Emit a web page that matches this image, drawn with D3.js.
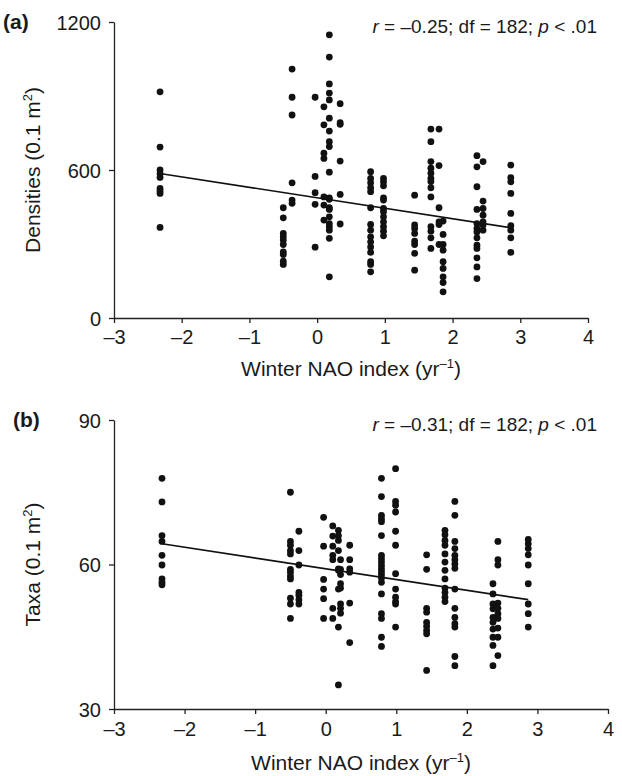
<!DOCTYPE html>
<html>
<head>
<meta charset="utf-8">
<script src="https://cdn.jsdelivr.net/npm/d3@7"></script>
<style>
  html, body { margin: 0; padding: 0; background: #fff; }
  svg { display: block; font-family: "Liberation Sans", Arial, Helvetica, sans-serif; }
</style>
</head>
<body>
<svg id="chart" width="622" height="776"></svg>
<script>
// ---------- data ----------
const xTicks = [-3, -2, -1, 0, 1, 2, 3, 4];
const densityTicks = [0, 600, 1200];
const taxaTicks = [30, 60, 90];

// Panel (a): winter NAO index values (columns) and densities in each column
const naoA = [-2.32, -0.50, -0.37, -0.03, 0.10, 0.18, 0.34, 0.79, 0.98, 1.44, 1.68, 1.80, 1.86, 2.36, 2.45, 2.86];
const densities = [
  [917, 693, 600, 585, 570, 525, 515, 505, 367],
  [447, 406, 343, 329, 316, 298, 268, 257, 230, 217],
  [1009, 895, 823, 548, 478, 465],
  [895, 574, 508, 461, 287],
  [856, 783, 668, 647, 491, 458, 397],
  [1148, 1058, 949, 912, 884, 810, 758, 715, 695, 591, 487, 481, 447, 440, 410, 383, 370, 356, 323, 167],
  [869, 792, 785, 636, 501, 381],
  [593, 566, 548, 528, 512, 447, 379, 356, 329, 309, 288, 266, 228, 217, 187],
  [566, 552, 536, 487, 478, 444, 431, 410, 390, 370, 352, 333],
  [498, 377, 363, 343, 312, 298, 262, 194],
  [766, 715, 634, 607, 587, 566, 553, 528, 491, 370, 352, 325, 282],
  [766, 618, 447, 390, 379, 298],
  [393, 339, 298, 275, 228, 201, 167, 144, 106],
  [658, 613, 532, 440, 383, 363, 349, 325, 295, 282, 244, 207, 160],
  [634, 474, 444, 417, 390, 377, 356],
  [620, 569, 552, 505, 424, 374, 356, 325, 266]
];
const fitA = [[-2.30, 585], [2.86, 366]];

// Panel (b): winter NAO index values (columns) and taxa in each column
const naoB = [-2.32, -0.50, -0.38, -0.03, 0.10, 0.18, 0.21, 0.34, 0.79, 0.99, 1.43, 1.69, 1.83, 2.37, 2.44, 2.87];
const taxa = [
  [77.9, 73.0, 66.0, 64.8, 61.9, 59.9, 57.0, 56.3, 55.8],
  [75.0, 64.8, 64.0, 62.9, 62.2, 59.0, 58.4, 57.6, 57.0, 53.0, 51.8, 48.8],
  [66.9, 62.9, 59.9, 54.2, 53.6, 52.7, 51.8],
  [69.8, 63.8, 56.9, 54.9, 52.9, 48.8],
  [68.0, 65.9, 63.8, 61.9, 61.0, 50.9, 48.8],
  [67.1, 66.0, 65.0, 62.9, 59.1, 58.8, 54.9, 47.0, 35.0],
  [61.0, 59.0, 57.9, 56.0, 55.1, 51.8, 50.9, 49.9],
  [64.0, 61.0, 59.1, 58.4, 52.0, 43.8],
  [77.9, 74.1, 70.2, 69.5, 68.9, 66.0, 61.9, 61.2, 60.5, 59.8, 59.1, 58.5, 57.9, 57.2, 56.3, 53.9, 49.8, 48.8, 44.9, 43.0],
  [79.9, 73.1, 72.3, 70.9, 66.9, 64.0, 58.1, 54.9, 53.2, 52.3, 51.8, 47.0],
  [62.0, 59.0, 50.9, 50.1, 48.0, 47.2, 46.3, 45.6, 38.0],
  [67.1, 66.2, 65.0, 64.0, 62.2, 60.5, 58.8, 57.0, 55.1, 54.2, 53.2, 52.3],
  [73.1, 70.2, 64.8, 63.3, 61.9, 61.0, 60.1, 59.2, 54.9, 50.9, 49.0, 47.7, 47.0, 40.9, 39.0],
  [56.0, 53.9, 51.8, 50.8, 49.0, 48.0, 46.6, 44.9, 43.2, 39.0],
  [64.8, 61.0, 59.9, 52.0, 50.9, 49.8, 48.8, 46.8, 44.9, 41.1],
  [65.2, 64.3, 63.3, 62.0, 59.9, 56.0, 51.8, 49.8, 47.0]
];
const fitB = [[-2.32, 64.3], [2.87, 52.7]];

const statsA = { r: "–0.25", df: "182", p: ".01" };
const statsB = { r: "–0.31", df: "182", p: ".01" };

// ---------- drawing ----------
const svg = d3.select("#chart");
const FS = 20;

function panel(opts) {
  const { letter, letterX, xRange, yTop, yBottom, yDomain, yTicks, xs, ys, fit, stats, yLabel, tickOff, titleOff } = opts;
  const x = d3.scaleLinear().domain([-3, 4]).range(xRange);
  const y = d3.scaleLinear().domain(yDomain).range([yBottom, yTop]);
  const g = svg.append("g");

  // axes
  const xAxis = d3.axisBottom(x).tickValues(xTicks).tickSize(5).tickSizeOuter(0)
    .tickFormat(d => d < 0 ? "\u2013" + Math.abs(d) : String(d));
  const gx = g.append("g").attr("transform", `translate(0,${yBottom})`).call(xAxis);
  const yAxis = d3.axisLeft(y).tickValues(yTicks).tickSize(5).tickSizeOuter(0)
    .tickFormat(d => String(d));
  const gy = g.append("g").attr("transform", `translate(${xRange[0]},0)`).call(yAxis);
  [gx, gy].forEach(a => {
    a.selectAll("path.domain").attr("stroke", "#222").attr("stroke-width", 1.3);
    a.selectAll(".tick line").attr("stroke", "#222").attr("stroke-width", 1.3);
    a.selectAll(".tick text").attr("font-size", FS).attr("fill", "#1a1a1a")
      .attr("font-family", "'Liberation Sans', Arial, Helvetica, sans-serif");
  });
  gx.selectAll(".tick text").attr("y", tickOff).attr("dy", 0);
  gy.selectAll(".tick text").attr("x", -13).attr("dy", "0.35em");

  // axis titles
  const xt = g.append("text")
    .attr("x", (xRange[0] + xRange[1]) / 2).attr("y", yBottom + titleOff)
    .attr("text-anchor", "middle").attr("font-size", FS + 1).attr("fill", "#1a1a1a");
  xt.append("tspan").text("Winter NAO index (yr");
  xt.append("tspan").attr("font-size", FS * 0.65).attr("dy", -8).text("\u20131");
  xt.append("tspan").attr("dy", 8).text(")");

  const yt = g.append("text")
    .attr("transform", `translate(40,${(yTop + yBottom) / 2}) rotate(-90)`)
    .attr("text-anchor", "middle").attr("font-size", FS + 1).attr("fill", "#1a1a1a");
  yt.append("tspan").text(yLabel + " (0.1 m");
  yt.append("tspan").attr("font-size", FS * 0.65).attr("dy", -8).text("2");
  yt.append("tspan").attr("dy", 8).text(")");

  // panel letter
  g.append("text").attr("x", letterX).attr("y", yTop + 7)
    .attr("font-size", FS + 1).attr("font-weight", "bold").attr("fill", "#1a1a1a").text(letter);

  // stats annotation
  const st = g.append("text").attr("x", 597).attr("y", yTop + 11)
    .attr("text-anchor", "end").attr("font-size", FS - 1).attr("fill", "#1a1a1a");
  st.append("tspan").attr("font-style", "italic").text("r");
  st.append("tspan").text(` = ${stats.r}; df = ${stats.df}; `);
  st.append("tspan").attr("font-style", "italic").text("p");
  st.append("tspan").text(` < ${stats.p}`);

  // points
  const pts = [];
  xs.forEach((xv, i) => ys[i].forEach(yv => pts.push([xv, yv])));
  g.append("g").selectAll("circle").data(pts).join("circle")
    .attr("cx", d => x(d[0])).attr("cy", d => y(d[1])).attr("r", 3.4).attr("fill", "#111");

  // fit line
  g.append("path").datum(fit)
    .attr("d", d3.line().x(d => x(d[0])).y(d => y(d[1])))
    .attr("fill", "none").attr("stroke", "#111").attr("stroke-width", 1.6);
}

panel({
  letter: "(a)", letterX: 3, xRange: [114, 588], yTop: 22, yBottom: 318,
  yDomain: [0, 1200], yTicks: densityTicks, xs: naoA, ys: densities, fit: fitA,
  stats: statsA, yLabel: "Densities", tickOff: 26, titleOff: 58
});
panel({
  letter: "(b)", letterX: 13, xRange: [114, 608], yTop: 420, yBottom: 709,
  yDomain: [30, 90], yTicks: taxaTicks, xs: naoB, ys: taxa, fit: fitB,
  stats: statsB, yLabel: "Taxa", tickOff: 27, titleOff: 61
});
</script>
</body>
</html>
